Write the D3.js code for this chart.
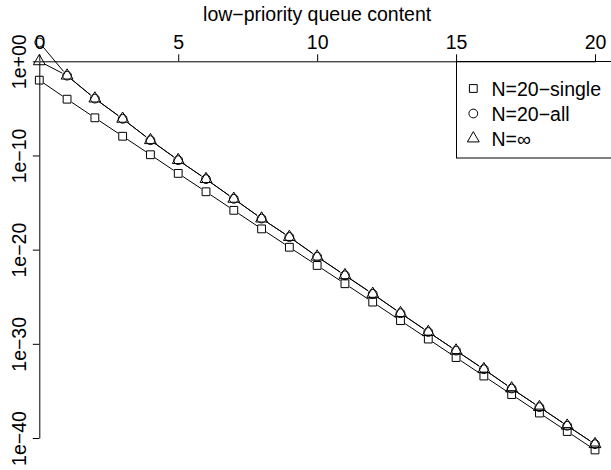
<!DOCTYPE html>
<html>
<head>
<meta charset="utf-8">
<script src="https://cdn.jsdelivr.net/npm/d3@7"></script>
<style>
  body { margin: 0; background: #fff; }
</style>
</head>
<body>
<div id="chart"></div>
<script>
// queue content values on the x axis
var content = [0, 1, 2, 3, 4, 5, 6, 7, 8, 9, 10, 11, 12, 13, 14, 15, 16, 17, 18, 19, 20];

// probabilities
var single = [1.0e-2, 9.5e-5, 1.0e-6, 1.1e-8, 1.2e-10, 1.25e-12, 1.4e-14, 1.5e-16, 1.6e-18, 1.8e-20,
  2.1e-22, 2.4e-24, 2.7e-26, 2.9e-28, 3.2e-30, 3.5e-32, 3.8e-34, 4.1e-36, 4.5e-38, 4.9e-40, 5.4e-42];
var all = [1.0e+2, 3.0e-2, 1.1e-4, 7.8e-7, 4.2e-9, 3.2e-11, 3.1e-13, 2.5e-15, 2.0e-17, 2.2e-19,
  1.8e-21, 1.9e-23, 2.0e-25, 1.8e-27, 1.8e-29, 1.9e-31, 2.0e-33, 1.8e-35, 1.9e-37, 2.0e-39, 2.2e-41];
var infinite = [1.0, 3.0e-2, 1.1e-4, 7.8e-7, 4.2e-9, 3.2e-11, 3.1e-13, 2.5e-15, 2.0e-17, 2.2e-19,
  1.8e-21, 1.9e-23, 2.0e-25, 1.8e-27, 1.8e-29, 1.9e-31, 2.0e-33, 1.8e-35, 1.9e-37, 2.0e-39, 2.2e-41];

var seriesNames = ["N=20\u2212single", "N=20\u2212all", "N=\u221e"];
var seriesShapes = ["square", "circle", "triangle"];

var xTicks = [0, 5, 10, 15, 20];
var yTicks = [1, 1e-10, 1e-20, 1e-30, 1e-40];
var yTickLabels = ["1e+00", "1e\u221210", "1e\u221220", "1e\u221230", "1e\u221240"];
var xTitle = "low\u2212priority queue content";

var width = 611, height = 470;
var font = "'Liberation Sans', Arial, Helvetica, sans-serif";
var fs = 19.5;
var R = 4.4; // symbol radius
var gap = 5.5; // type="b" gap around points

var x = d3.scaleLinear().domain([0, 20]).range([39.3, 595]);
var y = d3.scaleLog().domain([1, 1e-40]).range([61.3, 438]);

var svg = d3.select("#chart")
  .append("svg")
  .attr("viewBox", [0, 0, width, height])
  .attr("width", width)
  .attr("height", height)
  .style("font-family", font);

// legend box first, it sits against the top axis
svg.append("rect")
  .attr("x", 456.5).attr("y", 61.5)
  .attr("width", 200).attr("height", 96.5)
  .attr("fill", "none").attr("stroke", "#000").attr("stroke-width", 1);

// top x axis
var gx = svg.append("g")
  .attr("transform", "translate(0,61.3)")
  .call(d3.axisTop(x).tickValues(xTicks).tickSize(7).tickSizeOuter(0));
gx.selectAll("text")
  .attr("y", -12.5).attr("dy", 0)
  .attr("font-size", fs).attr("font-family", font).attr("fill", "#000");

// left y axis with rotated labels
var gy = svg.append("g")
  .attr("transform", "translate(39.3,0)")
  .call(d3.axisLeft(y).tickValues(yTicks).tickFormat(function (d, i) { return yTickLabels[i]; })
    .tickSize(6.5).tickSizeOuter(0));
gy.selectAll("text")
  .attr("x", 0).attr("dy", 0)
  .attr("text-anchor", "middle")
  .attr("transform", "translate(-13.6,0) rotate(-90)")
  .attr("font-size", fs).attr("font-family", font).attr("fill", "#000");

svg.selectAll(".domain, .tick line").attr("stroke", "#000");

svg.append("text")
  .attr("x", (x(0) + x(20)) / 2).attr("y", 20.5)
  .attr("text-anchor", "middle")
  .attr("font-size", fs)
  .text(xTitle);

function symbolPath(kind) {
  if (kind == "square") {
    var s = 0.886 * R;
    return "M" + (-s) + "," + (-s) + "h" + 2 * s + "v" + 2 * s + "h" + (-2 * s) + "Z";
  }
  if (kind == "triangle") {
    var r = 1.555 * R, xc = 1.347 * R, yc = 0.778 * R;
    return "M0," + (-r) + "L" + xc + "," + yc + "L" + (-xc) + "," + yc + "Z";
  }
  return "M" + R + ",0A" + R + "," + R + " 0 1,1 " + (-R) + ",0A" + R + "," + R + " 0 1,1 " + R + ",0Z";
}

// segments between neighbouring points, shortened at both ends like type="b"
function segments(vals) {
  var out = [];
  for (var i = 1; i < vals.length; i++) {
    var x0 = x(content[i - 1]), y0 = y(vals[i - 1]);
    var x1 = x(content[i]), y1 = y(vals[i]);
    var len = Math.hypot(x1 - x0, y1 - y0);
    if (len <= 2 * gap) continue;
    var ux = (x1 - x0) / len, uy = (y1 - y0) / len;
    out.push([[x0 + ux * gap, y0 + uy * gap], [x1 - ux * gap, y1 - uy * gap]]);
  }
  return out;
}

var line = d3.line();
var allSeries = [single, all, infinite];

allSeries.forEach(function (vals, k) {
  var g = svg.append("g");
  g.selectAll("path.seg")
    .data(segments(vals))
    .join("path")
    .attr("class", "seg")
    .attr("d", line)
    .attr("fill", "none")
    .attr("stroke", "#000")
    .attr("stroke-width", 1);
  g.selectAll("path.pt")
    .data(vals)
    .join("path")
    .attr("class", "pt")
    .attr("transform", function (d, i) { return "translate(" + x(content[i]) + "," + y(d) + ")"; })
    .attr("d", symbolPath(seriesShapes[k]))
    .attr("fill", "none")
    .attr("stroke", "#000")
    .attr("stroke-width", 1);
});

// legend entries
var legend = svg.append("g");
seriesNames.forEach(function (name, k) {
  var cy = 88.5 + k * 25;
  legend.append("path")
    .attr("transform", "translate(473.3," + cy + ")")
    .attr("d", symbolPath(seriesShapes[k]))
    .attr("fill", "none").attr("stroke", "#000").attr("stroke-width", 1);
  legend.append("text")
    .attr("x", 491.5).attr("y", cy + 7)
    .attr("font-size", fs)
    .text(name);
});
</script>
</body>
</html>
